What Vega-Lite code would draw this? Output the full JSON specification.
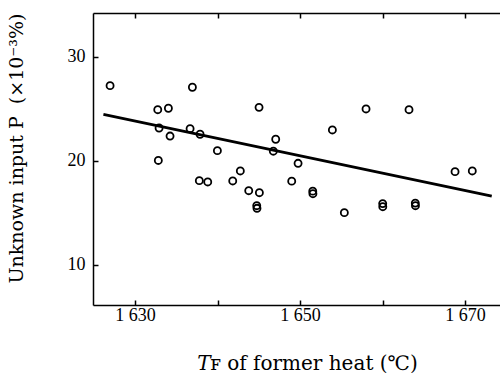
{
  "$schema": "https://vega.github.io/schema/vega-lite/v6.json",
  "width": 407,
  "height": 292,
  "autosize": {"type": "none"},
  "padding": {"left": 93, "top": 13, "right": 0, "bottom": 68},
  "background": "white",
  "config": {
    "view": {"stroke": null},
    "font": "Liberation Serif",
    "axis": {
      "grid": false,
      "ticks": true,
      "tickSize": -5,
      "tickColor": "black",
      "tickWidth": 1.5,
      "domainColor": "black",
      "domainWidth": 1.5,
      "labelColor": "black",
      "titleColor": "black",
      "labelFont": "Liberation Serif",
      "titleFont": "DejaVu Serif",
      "titleFontWeight": "normal",
      "labelFontSize": 18,
      "titleFontSize": 19
    }
  },
  "datasets": {
    "heats": [
      {"tf": 1626.97, "p": 27.24},
      {"tf": 1636.95, "p": 27.09},
      {"tf": 1632.75, "p": 24.93},
      {"tf": 1634.04, "p": 25.07},
      {"tf": 1645.03, "p": 25.16},
      {"tf": 1632.91, "p": 23.17},
      {"tf": 1634.24, "p": 22.4},
      {"tf": 1636.67, "p": 23.11},
      {"tf": 1637.88, "p": 22.57},
      {"tf": 1639.98, "p": 20.99},
      {"tf": 1647.05, "p": 22.09},
      {"tf": 1646.76, "p": 20.94},
      {"tf": 1632.82, "p": 20.05},
      {"tf": 1653.92, "p": 22.98},
      {"tf": 1658.0, "p": 25.0},
      {"tf": 1663.21, "p": 24.93},
      {"tf": 1649.76, "p": 19.78},
      {"tf": 1637.79, "p": 18.11},
      {"tf": 1638.81, "p": 17.98},
      {"tf": 1641.84, "p": 18.08},
      {"tf": 1642.76, "p": 19.04},
      {"tf": 1643.78, "p": 17.14},
      {"tf": 1645.07, "p": 16.95},
      {"tf": 1644.75, "p": 15.7},
      {"tf": 1644.78, "p": 15.45},
      {"tf": 1648.99, "p": 18.06},
      {"tf": 1651.54, "p": 17.1},
      {"tf": 1651.56, "p": 16.85},
      {"tf": 1655.37, "p": 15.03},
      {"tf": 1660.02, "p": 15.9},
      {"tf": 1660.03, "p": 15.6},
      {"tf": 1663.97, "p": 15.95},
      {"tf": 1663.99, "p": 15.7},
      {"tf": 1668.79, "p": 18.97},
      {"tf": 1670.88, "p": 19.04}
    ],
    "fit": [
      {"tf": 1626.16, "p": 24.49},
      {"tf": 1673.24, "p": 16.63}
    ]
  },
  "layer": [
    {
      "data": {"name": "heats"},
      "mark": {"type": "point", "shape": "circle", "filled": false, "color": "black", "size": 50, "strokeWidth": 1.8, "opacity": 1},
      "encoding": {
        "x": {
          "field": "tf",
          "type": "quantitative",
          "scale": {"domain": [1624.9, 1674.24], "nice": false, "zero": false},
          "axis": {
            "orient": "bottom",
            "tickCount": 5,
            "labelPadding": 6,
            "labelExpr": "datum.value % 20 == 10 ? '1 ' + (datum.value - 1000) : ''",
            "title": "𝑇ꜰ of former heat (℃)",
            "titleFontSize": 20,
            "titlePadding": 29,
            "titleX": 214
          }
        },
        "y": {
          "field": "p",
          "type": "quantitative",
          "scale": {"domain": [6.15, 34.23], "nice": false, "zero": false},
          "axis": {
            "tickCount": 3,
            "labelPadding": 13,
            "title": "Unknown input P\u00a0\u00a0(×10⁻³%)",
            "titlePadding": 41,
            "titleY": 135
          }
        }
      }
    },
    {
      "data": {"name": "fit"},
      "mark": {"type": "line", "color": "black", "strokeWidth": 2.8},
      "encoding": {
        "x": {
          "field": "tf",
          "type": "quantitative",
          "axis": {
            "orient": "top",
            "tickCount": 5,
            "labels": false,
            "title": null
          }
        },
        "y": {
          "field": "p",
          "type": "quantitative",
          "axis": {
            "tickCount": 3,
            "labelPadding": 13,
            "title": "Unknown input P\u00a0\u00a0(×10⁻³%)",
            "titlePadding": 41,
            "titleY": 135
          }
        }
      }
    }
  ],
  "resolve": {"axis": {"x": "independent"}}
}
